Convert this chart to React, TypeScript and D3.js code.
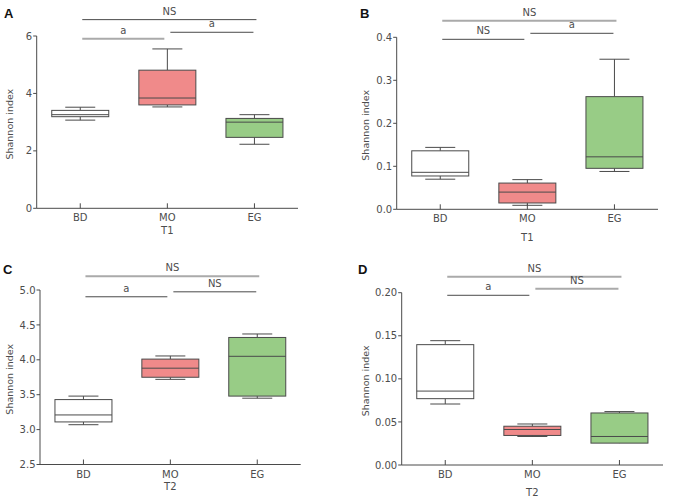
import React from "react";
import * as d3 from "d3";

// groups on the x axis
const groups = ["BD", "MO", "EG"];

// box statistics per group: [min, q1, median, q3, max]
const statsA = [
  [3.07, 3.19, 3.26, 3.41, 3.52],
  [3.53, 3.6, 3.84, 4.81, 5.55],
  [2.23, 2.47, 3.0, 3.13, 3.26],
];
const statsB = [
  [0.07, 0.0775, 0.086, 0.136, 0.144],
  [0.0093, 0.0147, 0.04, 0.061, 0.069],
  [0.088, 0.0953, 0.122, 0.262, 0.349],
];
const statsC = [
  [3.07, 3.11, 3.21, 3.43, 3.48],
  [3.72, 3.75, 3.88, 4.01, 4.055],
  [3.45, 3.48, 4.05, 4.32, 4.37],
];
const statsD = [
  [0.0708, 0.077, 0.0858, 0.1397, 0.1443],
  [0.0331, 0.0343, 0.0412, 0.045, 0.0476],
  [0.0265, 0.0254, 0.0331, 0.0604, 0.062],
];

// y ticks
const ticksA = [0, 2, 4, 6];
const ticksB = [0, 0.1, 0.2, 0.3, 0.4];
const ticksC = [2.5, 3.0, 3.5, 4.0, 4.5, 5.0];
const ticksD = [0, 0.05, 0.1, 0.15, 0.2];

// significance labels: [BD vs EG, BD vs MO, MO vs EG]
const sigA = ["NS", "a", "a"];
const sigB = ["NS", "NS", "a"];
const sigC = ["NS", "a", "NS"];
const sigD = ["NS", "a", "NS"];

// bracket heights in data units: [BD-EG, BD-MO, MO-EG]
const levelsA = [6.57, 5.9, 6.13];
const levelsB = [0.4386, 0.3953, 0.4093];
const levelsC = [5.197, 4.903, 4.974];
const levelsD = [0.2185, 0.197, 0.2046];

const timeA = "T1";
const timeB = "T2";

const fills = ["#ffffff", "#f08a8a", "#98cc86"];
const stroke = "#4a4a4a";
const lightLine = "#aaaaaa";
const textColor = "#4d4d4d";
const font = "'DejaVu Sans', Verdana, sans-serif";

interface PanelProps {
  letter: string;
  stats: number[][];
  ticks: number[];
  sig: string[];
  levels: number[];
  sigTones: boolean[]; // true = light thick line
  xTitle: string;
  left: number;
  right: number;
  bottom: number;
  top: number;
  letterPos: [number, number];
  yLabelX: number;
  xTitleY: number;
  fmt: (v: number) => string;
}

function Panel(p: PanelProps) {
  const domain = [p.ticks[0], p.ticks[p.ticks.length - 1]];
  const y = d3.scaleLinear().domain(domain).range([p.bottom, p.top]);
  const x = d3.scaleBand<string>().domain(groups).range([p.left, p.right]);
  const cx = (g: string) => (x(g) ?? 0) + x.bandwidth() / 2;
  const boxW = 57;
  const capW = 30;

  const pairs: [number, number][] = [
    [0, 2],
    [0, 1],
    [1, 2],
  ];

  return (
    <g fontFamily={font}>
      <text
        x={p.letterPos[0]}
        y={p.letterPos[1]}
        fontSize={13}
        fontWeight="bold"
        fontFamily="'Liberation Sans', Arial, sans-serif"
        fill="#111"
      >
        {p.letter}
      </text>

      {/* y axis */}
      <line x1={p.left} x2={p.left} y1={p.bottom} y2={p.top} stroke={stroke} />
      {p.ticks.map((t) => (
        <g key={t}>
          <line
            x1={p.left - 3.5}
            x2={p.left}
            y1={y(t)}
            y2={y(t)}
            stroke={stroke}
          />
          <text
            x={p.left - 4.5}
            y={y(t) + 3.6}
            textAnchor="end"
            fontSize={10}
            fill={textColor}
          >
            {p.fmt(t)}
          </text>
        </g>
      ))}
      <text
        transform={`translate(${p.yLabelX},${(p.top + p.bottom) / 2 + 2}) rotate(-90)`}
        textAnchor="middle"
        fontSize={9.5}
        fill={textColor}
      >
        Shannon index
      </text>

      {/* x axis */}
      <line
        x1={p.left}
        x2={p.right}
        y1={p.bottom}
        y2={p.bottom}
        stroke={stroke}
      />
      {groups.map((g) => (
        <g key={g}>
          <line
            x1={cx(g)}
            x2={cx(g)}
            y1={p.bottom}
            y2={p.bottom - 5}
            stroke={stroke}
          />
          <text
            x={cx(g)}
            y={p.bottom + 13}
            textAnchor="middle"
            fontSize={10}
            fill={textColor}
          >
            {g}
          </text>
        </g>
      ))}
      <text
        x={cx("MO")}
        y={p.xTitleY}
        textAnchor="middle"
        fontSize={10}
        fill={textColor}
      >
        {p.xTitle}
      </text>

      {/* boxes */}
      {groups.map((g, i) => {
        const [mn, q1, md, q3, mx] = p.stats[i];
        const c = cx(g);
        return (
          <g key={g}>
            <line x1={c} x2={c} y1={y(q3)} y2={y(mx)} stroke={stroke} />
            <line x1={c} x2={c} y1={y(q1)} y2={y(mn)} stroke={stroke} />
            <line
              x1={c - capW / 2}
              x2={c + capW / 2}
              y1={y(mx)}
              y2={y(mx)}
              stroke={stroke}
            />
            <line
              x1={c - capW / 2}
              x2={c + capW / 2}
              y1={y(mn)}
              y2={y(mn)}
              stroke={stroke}
            />
            <rect
              x={c - boxW / 2}
              y={y(q3)}
              width={boxW}
              height={y(q1) - y(q3)}
              fill={fills[i]}
              stroke={stroke}
            />
            <line
              x1={c - boxW / 2}
              x2={c + boxW / 2}
              y1={y(md)}
              y2={y(md)}
              stroke={stroke}
            />
          </g>
        );
      })}

      {/* significance brackets */}
      {pairs.map(([a, b], k) => {
        const x1 = cx(groups[a]) + (a === 1 ? 3 : 2);
        const x2 = cx(groups[b]) + (b === 1 ? -3 : k === 0 ? 2 : -1);
        const yy = y(p.levels[k]);
        const light = p.sigTones[k];
        return (
          <g key={k}>
            <line
              x1={x1}
              x2={x2}
              y1={yy}
              y2={yy}
              stroke={light ? lightLine : stroke}
              strokeWidth={light ? 2 : 1}
            />
            <text
              x={(x1 + x2) / 2}
              y={yy - 5}
              textAnchor="middle"
              fontSize={10}
              fill={textColor}
            >
              {p.sig[k]}
            </text>
          </g>
        );
      })}
    </g>
  );
}

export default function App() {
  const intFmt = d3.format("d");
  const f1 = d3.format(".1f");
  const f2 = d3.format(".2f");
  return (
    <svg
      width={676}
      height={502}
      style={{ position: "absolute", left: 0, top: 0, background: "#fff" }}
    >
      <Panel
        letter="A"
        stats={statsA}
        ticks={ticksA}
        sig={sigA}
        levels={levelsA}
        sigTones={[false, true, false]}
        xTitle={timeA}
        left={36.7}
        right={298}
        bottom={208.3}
        top={36}
        letterPos={[4, 18]}
        yLabelX={13}
        xTitleY={233.5}
        fmt={intFmt}
      />
      <Panel
        letter="B"
        stats={statsB}
        ticks={ticksB}
        sig={sigB}
        levels={levelsB}
        sigTones={[true, false, false]}
        xTitle={timeA}
        left={396.7}
        right={658}
        bottom={209.3}
        top={37.3}
        letterPos={[360, 17.5]}
        yLabelX={369}
        xTitleY={241}
        fmt={f1}
      />
      <Panel
        letter="C"
        stats={statsC}
        ticks={ticksC}
        sig={sigC}
        levels={levelsC}
        sigTones={[true, false, false]}
        xTitle={timeB}
        left={40}
        right={300.7}
        bottom={464.5}
        top={290}
        letterPos={[3, 274]}
        yLabelX={13}
        xTitleY={490}
        fmt={f1}
      />
      <Panel
        letter="D"
        stats={statsD}
        ticks={ticksD}
        sig={sigD}
        levels={levelsD}
        sigTones={[true, false, true]}
        xTitle={timeB}
        left={401.7}
        right={663}
        bottom={465}
        top={292.7}
        letterPos={[358, 273.5]}
        yLabelX={369}
        xTitleY={496}
        fmt={f2}
      />
    </svg>
  );
}
